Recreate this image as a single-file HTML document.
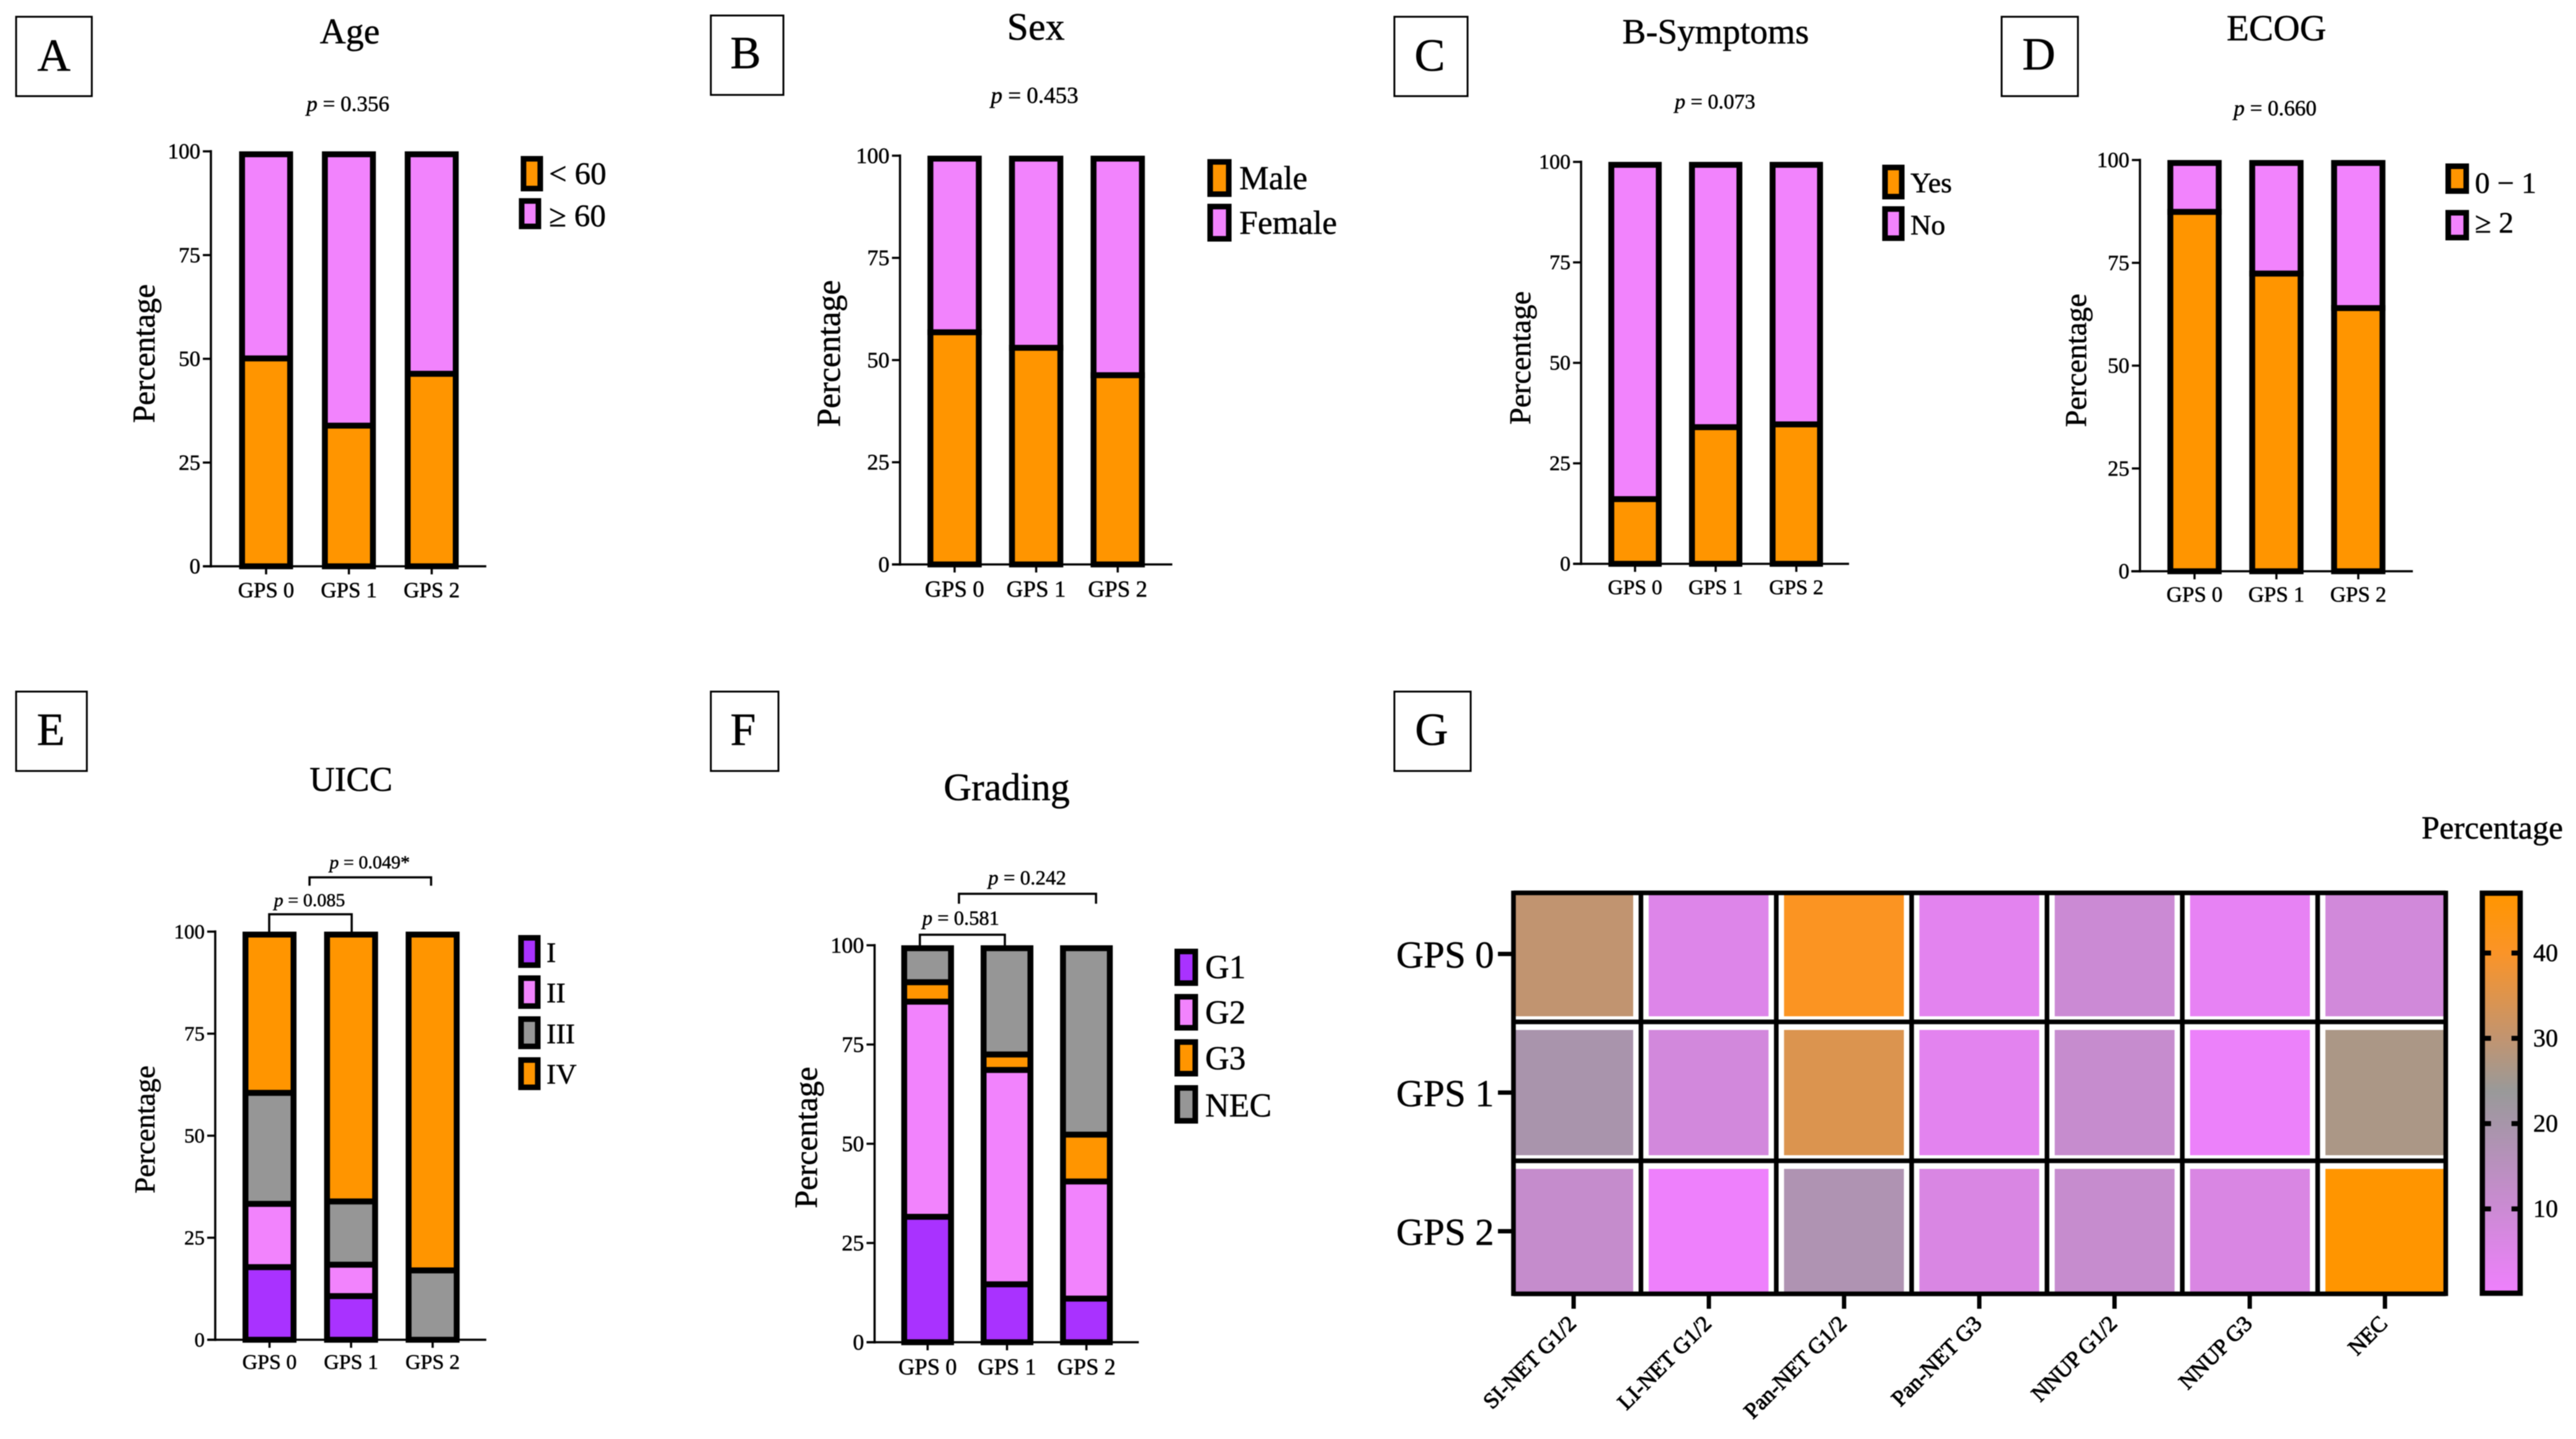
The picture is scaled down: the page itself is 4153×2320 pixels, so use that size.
<!DOCTYPE html>
<html lang="en">
<head>
<meta charset="utf-8">
<title>GPS patient characteristics</title>
<style>
html,body{margin:0;padding:0;background:#fff;width:4153px;height:2320px;overflow:hidden}
svg{display:block;filter:blur(0.9px)}
text{font-family:"Liberation Serif","Noto Serif CJK SC",serif;fill:#000;stroke:#000;stroke-width:.6}
.box{fill:#fff;stroke:#000;stroke-width:3}
.sw{stroke:#000;stroke-width:9}
.brk{fill:none;stroke:#000;stroke-width:3.5}
</style>
</head>
<body>
<svg id="fig" xmlns="http://www.w3.org/2000/svg" width="4153" height="2320" viewBox="0 0 4153 2320">
<rect width="4153" height="2320" fill="#fff"/>
<defs><linearGradient id="cbar" gradientUnits="userSpaceOnUse" x1="0" x2="0" y1="2081" y2="1443"></linearGradient></defs>

<!-- Panel A -->
<g>
<rect class="box" x="26" y="27" width="122" height="128"/>
<text x="87" y="114" font-size="74" text-anchor="middle">A</text>
<text x="564" y="70" font-size="58" text-anchor="middle">Age</text>
<text x="561" y="179" font-size="35" text-anchor="middle"><tspan font-style="italic">p</tspan> = 0.356</text>
<text transform="translate(249,570) rotate(-90)" font-size="51" text-anchor="middle">Percentage</text>
<g>
<rect class="sw" x="844" y="256" width="27" height="48" fill="#FF9500"/>
<text x="885" y="297" font-size="51">&lt; 60</text>
<rect class="sw" x="841" y="324" width="27" height="41" fill="#F283FD"/>
<text x="885" y="365" font-size="51">≥ 60</text>
</g>
</g>

<!-- Panel B -->
<g>
<rect class="box" x="1146" y="25" width="117" height="128"/>
<text x="1202" y="110" font-size="74" text-anchor="middle">B</text>
<text x="1670" y="64" font-size="62" text-anchor="middle">Sex</text>
<text x="1668" y="166" font-size="37" text-anchor="middle"><tspan font-style="italic">p</tspan> = 0.453</text>
<text transform="translate(1354,570) rotate(-90)" font-size="54" text-anchor="middle">Percentage</text>
<g>
<rect class="sw" x="1951" y="261" width="30" height="52" fill="#FF9500"/>
<text x="1998" y="305" font-size="53.5">Male</text>
<rect class="sw" x="1951" y="333" width="30" height="52" fill="#F283FD"/>
<text x="1998" y="377" font-size="53.5">Female</text>
</g>
</g>

<!-- Panel C -->
<g>
<rect class="box" x="2248" y="27" width="118" height="128"/>
<text x="2305" y="114" font-size="74" text-anchor="middle">C</text>
<text x="2766" y="70" font-size="57" text-anchor="middle">B-Symptoms</text>
<text x="2765" y="175" font-size="34" text-anchor="middle"><tspan font-style="italic">p</tspan> = 0.073</text>
<text transform="translate(2467,577) rotate(-90)" font-size="49" text-anchor="middle">Percentage</text>
<g>
<rect class="sw" x="3039" y="270" width="27" height="47" fill="#FF9500"/>
<text x="3080" y="310" font-size="46">Yes</text>
<rect class="sw" x="3039" y="337" width="27" height="47" fill="#F283FD"/>
<text x="3080" y="378" font-size="46">No</text>
</g>
</g>

<!-- Panel D -->
<g>
<rect class="box" x="3227" y="27" width="123" height="128"/>
<text x="3287" y="112" font-size="74" text-anchor="middle">D</text>
<text x="3670" y="65" font-size="59" text-anchor="middle">ECOG</text>
<text x="3668" y="186" font-size="35" text-anchor="middle"><tspan font-style="italic">p</tspan> = 0.660</text>
<text transform="translate(3363,581) rotate(-90)" font-size="49" text-anchor="middle">Percentage</text>
<g>
<rect class="sw" x="3947" y="268" width="29" height="40" fill="#FF9500"/>
<text x="3990" y="311" font-size="48">0 − 1</text>
<rect class="sw" x="3947" y="343" width="29" height="40" fill="#F283FD"/>
<text x="3990" y="375" font-size="48">≥ 2</text>
</g>
</g>

<!-- Panel E -->
<g>
<rect class="box" x="26" y="1115" width="114" height="128"/>
<text x="82" y="1201" font-size="74" text-anchor="middle">E</text>
<text x="566" y="1275" font-size="56" text-anchor="middle">UICC</text>
<path class="brk" d="M499 1428V1414.5H695V1428"/>
<text x="596" y="1400" font-size="30" text-anchor="middle"><tspan font-style="italic">p</tspan> = 0.049*</text>
<path class="brk" d="M434 1503V1474H567V1503"/>
<text x="499" y="1461" font-size="30" text-anchor="middle"><tspan font-style="italic">p</tspan> = 0.085</text>
<text transform="translate(249,1821) rotate(-90)" font-size="47" text-anchor="middle">Percentage</text>
<g>
<rect class="sw" x="840" y="1512" width="27" height="44" fill="#A932FF"/>
<text x="881" y="1551" font-size="46">I</text>
<rect class="sw" x="840" y="1577" width="27" height="45" fill="#F283FD"/>
<text x="881" y="1616" font-size="46">II</text>
<rect class="sw" x="840" y="1643" width="27" height="44" fill="#969696"/>
<text x="881" y="1682" font-size="46">III</text>
<rect class="sw" x="840" y="1709" width="27" height="44" fill="#FF9500"/>
<text x="881" y="1747" font-size="46">IV</text>
</g>
</g>

<!-- Panel F -->
<g>
<rect class="box" x="1146" y="1115" width="109" height="128"/>
<text x="1198" y="1201" font-size="74" text-anchor="middle">F</text>
<text x="1623" y="1290" font-size="62" text-anchor="middle">Grading</text>
<path class="brk" d="M1546 1457V1441H1767V1457"/>
<text x="1656" y="1426" font-size="33" text-anchor="middle"><tspan font-style="italic">p</tspan> = 0.242</text>
<path class="brk" d="M1483 1524V1507H1620V1524"/>
<text x="1549" y="1491" font-size="32.5" text-anchor="middle"><tspan font-style="italic">p</tspan> = 0.581</text>
<text transform="translate(1317,1834) rotate(-90)" font-size="52" text-anchor="middle">Percentage</text>
<g>
<rect class="sw" x="1898" y="1534" width="29" height="51" fill="#A932FF"/>
<text x="1943" y="1577" font-size="53.5">G1</text>
<rect class="sw" x="1898" y="1607" width="29" height="50" fill="#F283FD"/>
<text x="1943" y="1650" font-size="53.5">G2</text>
<rect class="sw" x="1898" y="1680" width="29" height="51" fill="#FF9500"/>
<text x="1943" y="1724" font-size="53.5">G3</text>
<rect class="sw" x="1898" y="1754" width="29" height="53" fill="#969696"/>
<text x="1943" y="1800" font-size="53.5">NEC</text>
</g>
</g>

<!-- Panel G -->
<g>
<rect class="box" x="2248" y="1115" width="123" height="128"/>
<text x="2308" y="1201" font-size="74" text-anchor="middle">G</text>
<text x="3904" y="1352" font-size="52">Percentage</text>
</g>

<script>
// ---------- shared categories and ticks ----------
const gpsGroups = ['GPS 0', 'GPS 1', 'GPS 2'];
const percentTicks = [0, 25, 50, 75, 100];

// ---------- stacked bar values (percent, bottom to top) ----------
const ageUnder60 = [50.1, 33.9, 46.4];
const ageOver60 = [49.9, 66.1, 53.6];
const sexMale = [56.8, 53.0, 46.3];
const sexFemale = [43.2, 47.0, 53.7];
const bSymptomsYes = [16.1, 34.0, 34.7];
const bSymptomsNo = [83.9, 66.0, 65.3];
const ecogLow = [87.4, 72.4, 64.0];
const ecogHigh = [12.6, 27.6, 36.0];
const uiccI = [17.8, 10.7, 0];
const uiccII = [15.5, 7.7, 0];
const uiccIII = [27.2, 15.5, 17.0];
const uiccIV = [39.5, 66.1, 83.0];
const gradeG1 = [31.6, 14.6, 11.0];
const gradeG2 = [54.2, 54.0, 29.5];
const gradeG3 = [4.9, 3.9, 11.8];
const gradeNEC = [9.3, 27.5, 47.7];

// ---------- heatmap values (percent) ----------
const heatColumns = ['SI-NET G1/2', 'LI-NET G1/2', 'Pan-NET G1/2', 'Pan-NET G3', 'NNUP G1/2', 'NNUP G3', 'NEC'];
const heatRows = ['GPS 0', 'GPS 1', 'GPS 2'];
const heatGps0 = [30, 5, 41, 3.4, 9.9, 2.3, 8.5];
const heatGps1 = [19.4, 8, 34.6, 3.4, 11.3, 0.9, 26.6];
const heatGps2 = [11.8, 0.4, 17.8, 6.2, 11.3, 6.2, 46.8];
const colorbarTicks = [10, 20, 30, 40];
const colorDomain = [0.4, 23.8, 30, 40, 46.8];

const ORANGE = '#FF9500', PINK = '#F283FD', PURPLE = '#A932FF', GREY = '#969696';
const rangeColors = [[238, 128, 252], [153, 153, 153], [193, 148, 112], [250, 148, 40], [255, 149, 0]];

const NS = 'http://www.w3.org/2000/svg';
const fig = document.getElementById('fig');
function make(tag, attrs, parent, text) {
  const el = document.createElementNS(NS, tag);
  for (const k in attrs) el.setAttribute(k, attrs[k]);
  if (text !== undefined) el.textContent = text;
  (parent || fig).appendChild(el);
  return el;
}

function drawStackedChart(key, L, series, colors) {
  const y = v => L.y0 - (v / 100) * (L.y0 - L.y100);
  const xc = i => L.c0 + i * L.step;
  const sw = 9.5;
  const g = make('g', {});
  
  

  gpsGroups.forEach((cat, i) => {
    let cum = 0;
    series.forEach((vals, s) => {
      const v = vals[i];
      if (v <= 0) return;
      const yBot = y(cum);
      cum += v;
      const yTop = Math.max(y(cum), L.y100 + sw / 2);
      const r = make('rect', {
        x: xc(i) - L.barW / 2 + sw / 2, y: yTop, width: L.barW - sw, height: Math.max(yBot - yTop, 0),
        fill: colors[s], stroke: '#000', 'stroke-width': sw
      }, g);
      
      
    });
  });

  const yAxis = make('line', { x1: L.ax, x2: L.ax, y1: L.y100 - 2, y2: L.y0 + 2, stroke: '#000', 'stroke-width': 3.5 }, g);
  
  
  const xAxis = make('line', { x1: L.xs, x2: L.xe, y1: L.y0, y2: L.y0, stroke: '#000', 'stroke-width': 3.5 }, g);
  
  

  percentTicks.forEach(t => {
    const tick = make('line', { x1: L.ax - 13, x2: L.ax, y1: y(t), y2: y(t), stroke: '#000', 'stroke-width': 3.5 }, g);
    
    
    const lab = make('text', { x: L.ax - 17, y: y(t) + L.tf * 0.33, 'font-size': L.tf, 'text-anchor': 'end' }, g, String(t));
    
    
  });
  gpsGroups.forEach((cat, i) => {
    const tick = make('line', { x1: xc(i), x2: xc(i), y1: L.y0, y2: L.y0 + 13, stroke: '#000', 'stroke-width': 3.5 }, g);
    
    
    const lab = make('text', { x: xc(i), y: L.cb, 'font-size': L.cf, 'text-anchor': 'middle' }, g, cat);
    
    
  });
}

drawStackedChart('age', { ax: 340, xs: 328, xe: 784, y0: 913, y100: 244, c0: 429, step: 133.5, barW: 87, tf: 35, cf: 35, cb: 963 },
  [ageUnder60, ageOver60], [ORANGE, PINK]);
drawStackedChart('sex', { ax: 1451, xs: 1438, xe: 1890, y0: 910, y100: 251, c0: 1539, step: 131.5, barW: 87.5, tf: 36, cf: 37, cb: 962 },
  [sexMale, sexFemale], [ORANGE, PINK]);
drawStackedChart('b-symptoms', { ax: 2549, xs: 2537, xe: 2981, y0: 909, y100: 261, c0: 2636, step: 130, barW: 86, tf: 34, cf: 34, cb: 958 },
  [bSymptomsYes, bSymptomsNo], [ORANGE, PINK]);
drawStackedChart('ecog', { ax: 3450, xs: 3436, xe: 3890, y0: 921, y100: 258, c0: 3538, step: 132, barW: 87.5, tf: 35, cf: 35, cb: 970 },
  [ecogLow, ecogHigh], [ORANGE, PINK]);
drawStackedChart('uicc', { ax: 347, xs: 335, xe: 784, y0: 2160, y100: 1502, c0: 434.5, step: 131.5, barW: 87, tf: 33, cf: 34, cb: 2207 },
  [uiccI, uiccII, uiccIII, uiccIV], [PURPLE, PINK, GREY, ORANGE]);
drawStackedChart('grading', { ax: 1410, xs: 1397, xe: 1836, y0: 2164, y100: 1524, c0: 1495.5, step: 128, barW: 85, tf: 36, cf: 36.5, cb: 2216 },
  [gradeG1, gradeG2, gradeG3, gradeNEC], [PURPLE, PINK, ORANGE, GREY]);

// ---------- heatmap ----------
const domainLow = colorDomain[0];
const domainHigh = colorDomain[colorDomain.length - 1];
function colorOf(v) {
  const c = Math.min(Math.max(v, domainLow), domainHigh);
  let k = 0;
  while (k < colorDomain.length - 2 && c > colorDomain[k + 1]) k++;
  const t = (c - colorDomain[k]) / (colorDomain[k + 1] - colorDomain[k]);
  const a = rangeColors[k], b = rangeColors[k + 1];
  return 'rgb(' + a.map((u, i) => Math.round(u + (b[i] - u) * t)).join(',') + ')';
}
const HM = { left: 2440, right: 3943, top: 1439.5, bottom: 2086, colFirst: 2645.5, colStep: 218.2, rowFirst: 1647.5, rowStep: 224 };
const colLine = i => i === 0 ? HM.left : i === heatColumns.length ? HM.right : HM.colFirst + HM.colStep * (i - 1);
const rowLine = j => j === 0 ? HM.top : j === heatRows.length ? HM.bottom : HM.rowFirst + HM.rowStep * (j - 1);
const colTick = i => 2537 + 218 * i;
const rowTick = j => 1538 + 223.5 * j;

const heatG = make('g', {});



[heatGps0, heatGps1, heatGps2].forEach((rowVals, j) => {
  rowVals.forEach((v, i) => {
    const x0 = colLine(i) + (i === 0 ? 3 : 12.5);
    const x1 = colLine(i + 1) - (i === heatColumns.length - 1 ? 3 : 12.5);
    const y0 = rowLine(j) + (j === 0 ? 3 : 13);
    const y1 = rowLine(j + 1) - (j === heatRows.length - 1 ? 0 : 9);
    const cell = make('rect', { x: x0, y: y0, width: x1 - x0, height: y1 - y0, fill: colorOf(v) }, heatG);
    
    
  });
});
for (let i = 0; i <= heatColumns.length; i++) {
  const gl = make('line', { x1: colLine(i), x2: colLine(i), y1: HM.top - 3.5, y2: HM.bottom + 3.5, stroke: '#000', 'stroke-width': 7.5 }, heatG);
  
  
}
for (let j = 0; j <= heatRows.length; j++) {
  const gl = make('line', { x1: HM.left, x2: HM.right, y1: rowLine(j), y2: rowLine(j), stroke: '#000', 'stroke-width': 7.5 }, heatG);
  
  
}
heatRows.forEach((lab, j) => {
  const tick = make('line', { x1: 2415, x2: 2438, y1: rowTick(j), y2: rowTick(j), stroke: '#000', 'stroke-width': 7 }, heatG);
  
  
  const t = make('text', { x: 2251, y: rowTick(j) + 22, 'font-size': 61 }, heatG, lab);
  
  
});
heatColumns.forEach((lab, i) => {
  const tick = make('line', { x1: colTick(i), x2: colTick(i), y1: 2088, y2: 2110, stroke: '#000', 'stroke-width': 7 }, heatG);
  
  
  const t = make('text', {
    transform: 'translate(' + (colTick(i) + 6) + ',2136) rotate(-45)',
    'font-size': 36, 'text-anchor': 'end', style: 'stroke-width:1.1'
  }, heatG, lab);
  
  
});

// ---------- colour bar ----------
const grad = document.getElementById('cbar');
colorDomain.forEach(v => {
  make('stop', { offset: (v - domainLow) / (domainHigh - domainLow), 'stop-color': colorOf(v) }, grad);
});
const cbarY = v => 2081 - (v - domainLow) / (domainHigh - domainLow) * (2081 - 1443);
const cbarG = make('g', {});


const cbarRect = make('rect', { x: 4002, y: 1440, width: 61, height: 645, fill: 'url(#cbar)', stroke: '#000', 'stroke-width': 8.5 }, cbarG);


colorbarTicks.forEach(t => {
  const l = make('line', { x1: 4006, x2: 4016, y1: cbarY(t), y2: cbarY(t), stroke: '#000', 'stroke-width': 8 }, cbarG);
  
  
  const r = make('line', { x1: 4049, x2: 4059, y1: cbarY(t), y2: cbarY(t), stroke: '#000', 'stroke-width': 8 }, cbarG);
  
  
  const lab = make('text', { x: 4084, y: cbarY(t) + 13, 'font-size': 40 }, cbarG, String(t));
  
  
});
</script>
</svg>
</body>
</html>
